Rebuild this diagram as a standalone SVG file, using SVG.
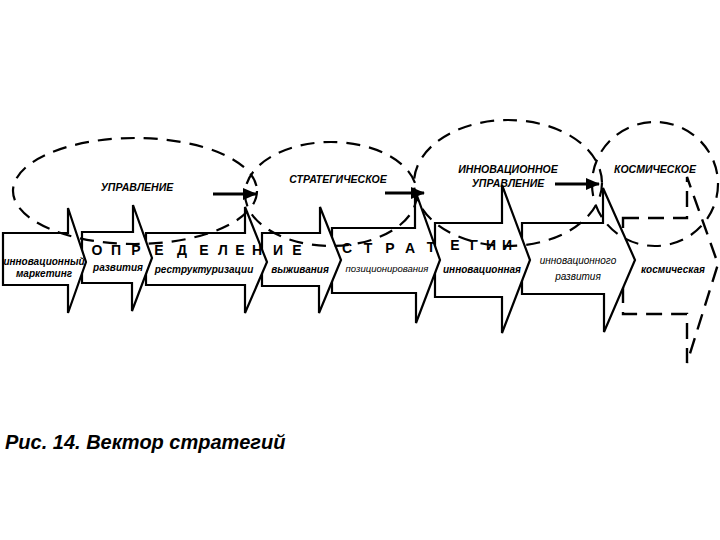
<svg xmlns="http://www.w3.org/2000/svg" width="720" height="540" viewBox="0 0 720 540">
<style>
.arr{fill:#fff;stroke:#000;stroke-width:2.2;stroke-linejoin:miter}
.dash{fill:#fff;stroke:#000;stroke-width:2.4;stroke-dasharray:16 9}
.ell{fill:none;stroke:#000;stroke-width:2.2;stroke-dasharray:14 9}
.lab{font-family:"Liberation Sans",Arial,sans-serif;font-size:10px;font-style:italic;font-weight:bold;fill:#000;text-anchor:middle}
.lab2{font-family:"Liberation Sans",Arial,sans-serif;font-size:10px;font-style:italic;fill:#000;text-anchor:middle}
.hd{font-family:"Liberation Sans",Arial,sans-serif;font-size:10.5px;font-style:italic;font-weight:bold;fill:#000;text-anchor:middle}
.sp{font-family:"Liberation Sans",Arial,sans-serif;font-size:14px;font-weight:bold;fill:#000;text-anchor:middle}
.con{stroke:#000;stroke-width:3;fill:none}
</style>
<defs>
<marker id="ah" markerUnits="userSpaceOnUse" markerWidth="14" markerHeight="12" refX="13" refY="6" orient="auto">
<path d="M0,0 L14,6 L0,12 Z" fill="#000"/>
</marker>
</defs>
<rect width="720" height="540" fill="#fff"/>

<g id="arrow-kosmicheskaya">
<path class="dash" d="M623,218 H687 V177 L718,264 L687,363 V314 H623 Z"/>
<text class="lab" x="673" y="273">космическая</text>
</g>
<g id="arrow-innovatsionnogo-razvitiya">
<path class="arr" d="M522,223 H603 V188 L635,260 L604,332 V294 H522 Z"/>
<text class="lab2" x="578" y="264">инновационного</text>
<text class="lab2" x="578" y="280">развития</text>
</g>
<g id="arrow-innovatsionnaya">
<path class="arr" d="M435,223 H502 V185 L530,260 L502,333 V297 H435 Z"/>
<text class="lab" x="482" y="273">инновационная</text>
</g>
<g id="arrow-pozitsionirovaniya">
<path class="arr" d="M332,228 H415 V190 L440,260 L416,323 V293 H332 Z"/>
<text class="lab2" x="387" y="272" style="font-size:9.5px">позиционирования</text>
</g>
<g id="arrow-vyzhivaniya">
<path class="arr" d="M262,233 H320 V207 L341,260 L319,313 V286 H262 Z"/>
<text class="lab" x="300" y="273">выживания</text>
</g>
<g id="arrow-restrukturizatsii">
<path class="arr" d="M146,233 H245 V207 L267,262 L245,313 V285 H146 Z"/>
<text class="lab" x="204" y="273">реструктуризации</text>
</g>
<g id="arrow-razvitiya">
<path class="arr" d="M82,232 H133 V205 L152,258 L132,311 V283 H82 Z"/>
<text class="lab" x="118" y="271">развития</text>
</g>
<g id="arrow-innovatsionny-marketing">
<path class="arr" d="M3,233 H68 V208 L86,262 L68,313 V285 H3 Z"/>
<text class="lab" x="44" y="265">инновационный</text>
<text class="lab" x="44" y="277">маркетинг</text>
</g>

<g id="ellipse-upravlenie">
<ellipse class="ell" cx="135" cy="191" rx="122" ry="53"/>
<text class="hd" x="137" y="191">УПРАВЛЕНИЕ</text>
</g>
<g id="ellipse-strategicheskoe">
<ellipse class="ell" cx="331" cy="194" rx="86" ry="52"/>
<text class="hd" x="338" y="183">СТРАТЕГИЧЕСКОЕ</text>
</g>
<g id="ellipse-innovatsionnoe">
<ellipse class="ell" cx="508" cy="183" rx="94" ry="63"/>
<text class="hd" x="508" y="173">ИННОВАЦИОННОЕ</text>
<text class="hd" x="508" y="187">УПРАВЛЕНИЕ</text>
</g>
<g id="ellipse-kosmicheskoe">
<ellipse class="ell" cx="655" cy="184" rx="63" ry="62"/>
<text class="hd" x="655" y="173">КОСМИЧЕСКОЕ</text>
</g>

<g id="connectors">
<line class="con" x1="213" y1="194" x2="256" y2="194" marker-end="url(#ah)"/>
<line class="con" x1="385" y1="193" x2="424" y2="193" marker-end="url(#ah)"/>
<line class="con" x1="555" y1="184" x2="599" y2="184" marker-end="url(#ah)"/>
</g>

<g id="title-letters">
<text class="sp" x="97 116 136 159 182 204 223 240 257 278 297" y="255">ОПРЕДЕЛЕНИЕ</text>
<text class="sp" x="347 368 390 410 431 455 474 491 507" y="253 253 253 253 252 250 250 250 250">СТРАТЕГИИ</text>
</g>

<text x="5" y="449" style="font-family:'Liberation Sans',Arial,sans-serif;font-size:20px;font-style:italic;font-weight:bold;fill:#000">Рис. 14. Вектор стратегий</text>
</svg>
